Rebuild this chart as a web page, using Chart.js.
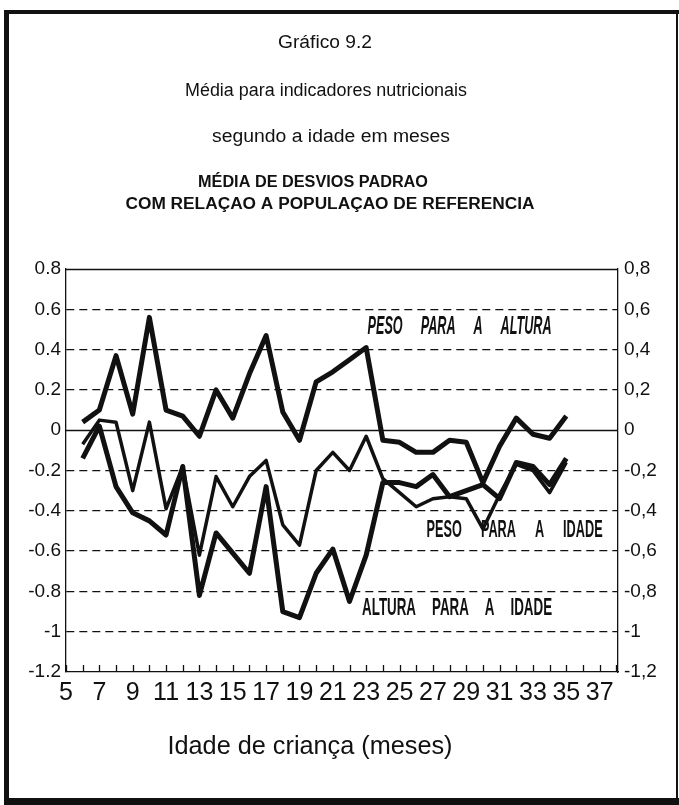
<!DOCTYPE html>
<html><head><meta charset="utf-8">
<script src="https://cdn.jsdelivr.net/npm/chart.js@4.4.1/dist/chart.umd.min.js"></script>
<style>html,body{margin:0;padding:0;background:#fff}#wrap{width:679px;height:805px;position:relative}</style>
</head><body><div id="wrap"><canvas id="c" width="679" height="805"></canvas></div>
<script>
// ---- data ----
const ages = [6,7,8,9,10,11,12,13,14,15,16,17,18,19,20,21,22,23,24,25,26,27,28,29,30,31,32,33,34,35];
const pesoAltura = [0.04,0.10,0.37,0.08,0.56,0.10,0.07,-0.03,0.20,0.06,0.28,0.47,0.09,-0.05,0.24,0.29,0.35,0.41,-0.05,-0.06,-0.11,-0.11,-0.05,-0.06,-0.26,-0.08,0.06,-0.02,-0.04,0.07];
const pesoIdade = [-0.07,0.05,0.04,-0.30,0.04,-0.39,-0.18,-0.62,-0.23,-0.38,-0.23,-0.15,-0.47,-0.57,-0.20,-0.11,-0.20,-0.03,-0.24,-0.31,-0.38,-0.34,-0.33,-0.34,-0.49,-0.32,-0.17,-0.20,-0.31,-0.16];
const alturaIdade = [-0.14,0.02,-0.28,-0.41,-0.45,-0.52,-0.18,-0.82,-0.51,-0.61,-0.71,-0.28,-0.90,-0.93,-0.71,-0.59,-0.85,-0.62,-0.26,-0.26,-0.28,-0.22,-0.33,-0.30,-0.27,-0.34,-0.16,-0.18,-0.27,-0.14];
const xTickValues = [5,6,7,8,9,10,11,12,13,14,15,16,17,18,19,20,21,22,23,24,25,26,27,28,29,30,31,32,33,34,35,36,37,38];
const xTickLabels = ['5','','7','','9','','11','','13','','15','','17','','19','','21','','23','','25','','27','','29','','31','','33','','35','','37',''];
const yTickValues = [0.8,0.6,0.4,0.2,0,-0.2,-0.4,-0.6,-0.8,-1,-1.2];
const yTickLabelsLeft = ['0.8','0.6','0.4','0.2','0','-0.2','-0.4','-0.6','-0.8','-1','-1.2'];
const yTickLabelsRight = ['0,8','0,6','0,4','0,2','0','-0,2','-0,4','-0,6','-0,8','-1','-1,2'];
const seriesNames = ['PESO PARA A ALTURA','PESO PARA A IDADE','ALTURA PARA A IDADE'];
const titleLines = ['Gráfico 9.2','Média para indicadores nutricionais','segundo a idade em meses'];
const subtitleLines = ['MÉDIA DE DESVIOS PADRAO','COM RELAÇAO A POPULAÇAO DE REFERENCIA'];
const xAxisTitle = 'Idade de criança (meses)';

// ---- drawing helpers ----
const INK = '#111';
function fitText(ctx, s, cx, cy, font, width) {
  ctx.save();
  ctx.font = font; ctx.fillStyle = INK; ctx.textBaseline = 'middle'; ctx.textAlign = 'center';
  const m = ctx.measureText(s).width;
  const sx = width ? width / m : 1;
  ctx.translate(cx, cy); ctx.scale(sx, 1); ctx.fillText(s, 0, 0);
  ctx.restore();
}
function fitWords(ctx, s, cx, cy, font, width, gap) {
  ctx.save();
  ctx.font = font; ctx.fillStyle = INK; ctx.textBaseline = 'middle'; ctx.textAlign = 'left';
  const words = s.split(' ');
  const ws = words.map(w => ctx.measureText(w).width);
  const sum = ws.reduce((a, b) => a + b, 0);
  const sx = (width - gap * (words.length - 1)) / sum;
  let x = cx - width / 2;
  words.forEach((w, i) => {
    ctx.save(); ctx.translate(x, cy); ctx.scale(sx, 1); ctx.fillText(w, 0, 0); ctx.restore();
    x += ws[i] * sx + gap;
  });
  ctx.restore();
}

const labelPlacement = [
  {x: 28.6, y: 0.51, font: 'italic bold 25px "Liberation Sans"', width: 184, gap: 18},
  {x: 31.9, y: -0.50, font: 'bold 23px "Liberation Sans"', width: 176, gap: 19},
  {x: 28.45, y: -0.885, font: 'bold 23px "Liberation Sans"', width: 190, gap: 16}
];

const decor = {
  id: 'decor',
  beforeDraw(chart) {
    const ctx = chart.ctx;
    ctx.save();
    ctx.fillStyle = '#fff'; ctx.fillRect(0, 0, chart.width, chart.height);
    ctx.fillStyle = INK;
    ctx.fillRect(4, 10, 675, 4);     // top frame
    ctx.fillRect(4, 10, 5, 795);     // left frame
    ctx.fillRect(4, 798, 675, 7);    // bottom frame
    ctx.fillRect(676, 10, 2, 795);   // right frame
    ctx.restore();
  },
  beforeDatasetsDraw(chart) {
    const ctx = chart.ctx, a = chart.chartArea, y = chart.scales.y;
    ctx.save();
    ctx.strokeStyle = INK; ctx.lineWidth = 1.3;
    [0, 0.8].forEach(v => {
      const py = Math.round(y.getPixelForValue(v)) + 0.5;
      ctx.beginPath(); ctx.moveTo(a.left, py); ctx.lineTo(a.right, py); ctx.stroke();
    });
    const xs = chart.scales.x;
    xTickValues.forEach(v => {
      const px = Math.round(xs.getPixelForValue(v)) + 0.5;
      ctx.beginPath(); ctx.moveTo(px, a.bottom); ctx.lineTo(px, a.bottom - 7); ctx.stroke();
    });
    ctx.restore();
  },
  afterDraw(chart) {
    const ctx = chart.ctx, xs = chart.scales.x, ys = chart.scales.y;
    fitText(ctx, titleLines[0], 325, 43, '18px "Liberation Sans"', 94);
    fitText(ctx, titleLines[1], 326, 91, '18px "Liberation Sans"', 282);
    fitText(ctx, titleLines[2], 331, 137, '18px "Liberation Sans"', 238);
    fitText(ctx, subtitleLines[0], 313, 183, 'bold 16px "Liberation Sans"', 230);
    fitText(ctx, subtitleLines[1], 330, 205, 'bold 16px "Liberation Sans"', 409);
    fitText(ctx, xAxisTitle, 310, 747, '25px "Liberation Sans"', 285);
    seriesNames.forEach((s, i) => {
      const p = labelPlacement[i];
      fitWords(ctx, s, xs.getPixelForValue(p.x), ys.getPixelForValue(p.y), p.font, p.width, p.gap);
    });
  }
};

const toPts = arr => ages.map((a, i) => ({x: a, y: arr[i]}));
const lineStyle = (w) => ({borderColor: INK, borderWidth: w, pointRadius: 0, tension: 0,
  borderJoinStyle: 'round', borderCapStyle: 'butt', fill: false});

new Chart(document.getElementById('c'), {
  type: 'line',
  data: {
    datasets: [
      Object.assign({label: seriesNames[0], data: toPts(pesoAltura)}, lineStyle(5)),
      Object.assign({label: seriesNames[1], data: toPts(pesoIdade)}, lineStyle(3.5)),
      Object.assign({label: seriesNames[2], data: toPts(alturaIdade)}, lineStyle(5))
    ]
  },
  options: {
    responsive: false, animation: false, devicePixelRatio: 1,
    layout: {padding: {top: 269, left: 0, right: 0, bottom: 0}},
    plugins: {legend: {display: false}, tooltip: {enabled: false}, title: {display: false}},
    scales: {
      x: {
        type: 'linear', position: 'bottom', min: 5, max: 38.1,
        afterBuildTicks: s => { s.ticks = xTickValues.map(v => ({value: v})); },
        afterFit: s => { s.height = 133; },
        ticks: {autoSkip: false, maxRotation: 0, minRotation: 0, padding: 6, color: INK,
          font: {family: '"Liberation Sans Narrow", "Liberation Sans"', size: 25},
          callback: (v) => { const i = xTickValues.indexOf(v); return i >= 0 ? xTickLabels[i] : ''; }},
        grid: {display: false, drawTicks: false},
        border: {display: true, color: INK, width: 1.3}
      },
      y: {
        type: 'linear', position: 'left', min: -1.2, max: 0.8,
        afterBuildTicks: s => { s.ticks = yTickValues.map(v => ({value: v})); },
        afterFit: s => { s.width = 66; },
        ticks: {padding: 5, color: INK, font: {family: '"Liberation Sans"', size: 19},
          callback: (v, i) => yTickLabelsLeft[i]},
        grid: {drawTicks: false, lineWidth: 1.2,
          color: c => (c.tick && (Math.abs(c.tick.value) < 1e-9 || Math.abs(c.tick.value - 0.8) < 1e-9 || Math.abs(c.tick.value + 1.2) < 1e-9)) ? 'rgba(0,0,0,0)' : INK},
        border: {display: true, color: INK, width: 1.3, dash: [8, 5]}
      },
      y2: {
        type: 'linear', position: 'right', min: -1.2, max: 0.8,
        afterBuildTicks: s => { s.ticks = yTickValues.map(v => ({value: v})); },
        afterFit: s => { s.width = 61; },
        ticks: {padding: 6, color: INK, font: {family: '"Liberation Sans"', size: 19},
          callback: (v, i) => yTickLabelsRight[i]},
        grid: {display: false, drawTicks: false},
        border: {display: true, color: INK, width: 1.3}
      }
    }
  },
  plugins: [decor]
});
</script></body></html>
